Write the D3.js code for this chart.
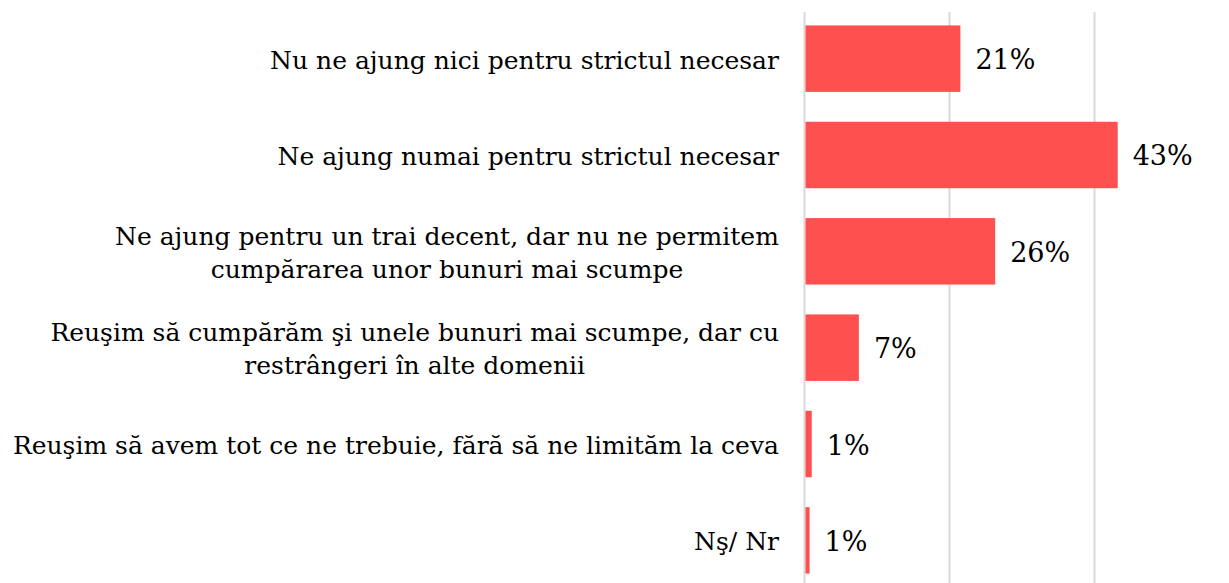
<!DOCTYPE html>
<html>
<head>
<meta charset="utf-8">
<script src="https://cdn.jsdelivr.net/npm/d3@7"></script>
<style>
  body { margin: 0; background: #fff; }
  svg text { font-family: "DejaVu Serif", "Liberation Serif", serif; fill: #000; }
</style>
</head>
<body>
<div id="chart"></div>
<script>
const width = 1229;
const height = 583;

// answer categories (each entry = lines of the wrapped label)
const categories = [
    ["Nu ne ajung nici pentru strictul necesar"],
    ["Ne ajung numai pentru strictul necesar"],
    ["Ne ajung pentru un trai decent, dar nu ne permitem", "cumpărarea unor bunuri mai scumpe"],
    ["Reuşim să cumpărăm şi unele bunuri mai scumpe, dar cu", "restrângeri în alte domenii"],
    ["Reuşim să avem tot ce ne trebuie, fără să ne limităm la ceva"],
    ["Nş/ Nr"]
];
const values = [21.5, 43.2, 26.3, 7.5, 1.0, 0.7];
const valueLabels = ["21%", "43%", "26%", "7%", "1%", "1%"];
const gridTicks = [0, 20, 40];

const svg = d3.select("#chart")
    .append("svg")
    .attr("width", width)
    .attr("height", height);

const x = d3.scaleLinear()
    .domain([0, 60])
    .range([804.5, 1239.5]);

const y = d3.scaleBand()
    .domain(d3.range(categories.length))
    .range([10, 589])
    .paddingInner(0.31)
    .paddingOuter(0.16);

// vertical gridlines
svg.append("g")
    .selectAll("line")
    .data(gridTicks)
    .join("line")
    .attr("x1", d => x(d))
    .attr("x2", d => x(d))
    .attr("y1", 12)
    .attr("y2", height)
    .attr("stroke", "#d9d9d9")
    .attr("stroke-width", 2);

// bars
svg.append("g")
    .selectAll("rect")
    .data(values)
    .join("rect")
    .attr("x", x(0) + 1)
    .attr("y", (d, i) => y(i))
    .attr("width", d => x(d) - x(0) - 1)
    .attr("height", y.bandwidth())
    .attr("fill", "#ff5050");

// value labels
svg.append("g")
    .selectAll("text")
    .data(values)
    .join("text")
    .attr("x", d => x(d) + 15)
    .attr("y", (d, i) => y(i) + y.bandwidth() / 2 + 10.5)
    .attr("font-size", 27)
    .text((d, i) => valueLabels[i]);

// category labels: lines centred on each other, block right-aligned at 779
const lineGap = 33;
const labels = svg.append("g")
    .selectAll("text")
    .data(categories)
    .join("text")
    .attr("font-size", 25)
    .attr("text-anchor", "middle");

labels.each(function(lines, i) {
    const t = d3.select(this);
    const cy = y(i) + y.bandwidth() / 2;
    const first = cy + 10 - (lines.length - 1) * lineGap / 2;
    lines.forEach((line, k) => {
        t.append("tspan").attr("x", 0).attr("y", first + k * lineGap).text(line);
    });
    const w = this.getBBox().width;
    t.selectAll("tspan").attr("x", 779 - w / 2);
});
</script>
</body>
</html>
